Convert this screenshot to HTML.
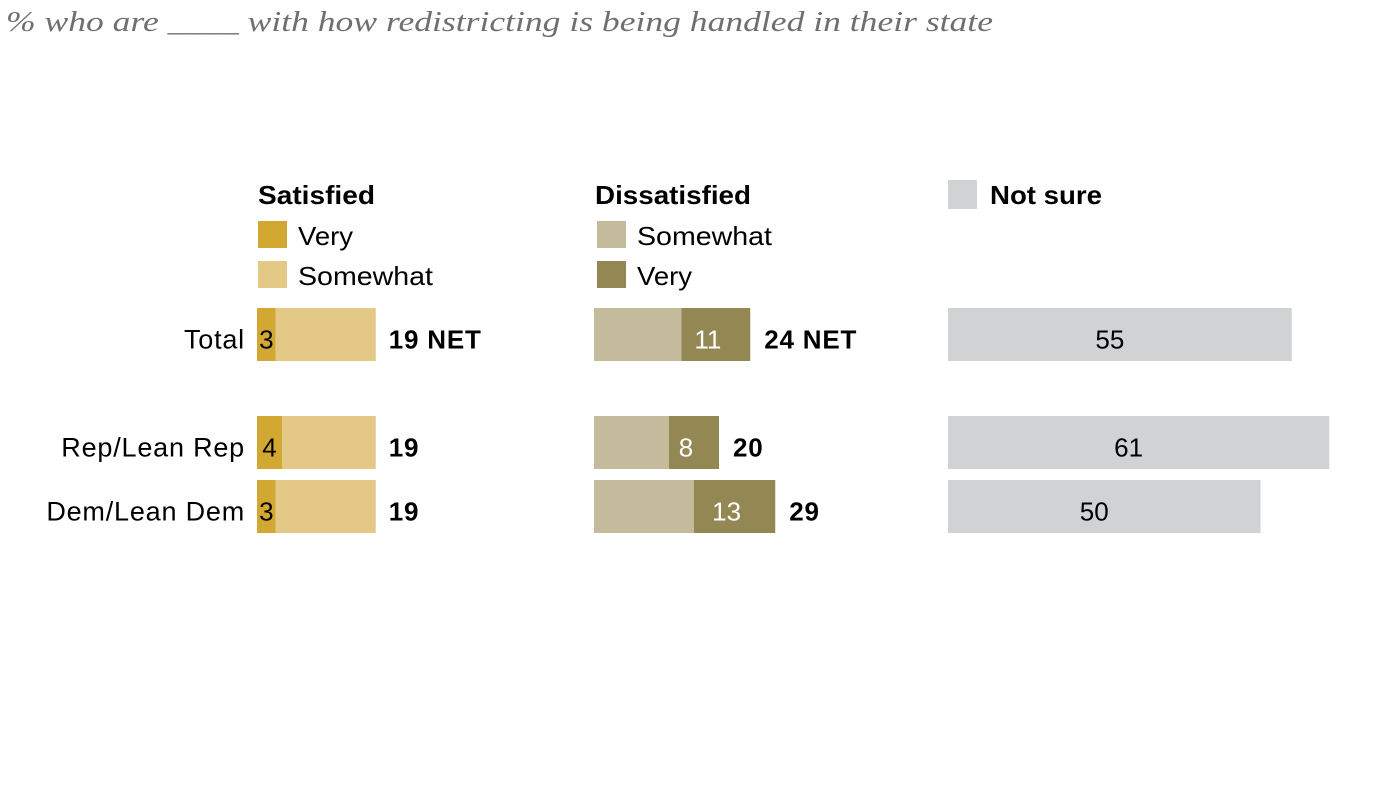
<!DOCTYPE html>
<html><head><meta charset="utf-8">
<style>
body{margin:0;width:1400px;height:789px;background:#fff;overflow:hidden;font-family:"Liberation Sans",sans-serif;}
</style></head>
<body>
<svg id="chart" width="1400" height="789" xmlns="http://www.w3.org/2000/svg">
<text x="6" y="31" font-family="Liberation Serif, serif" font-style="italic" font-size="29" fill="#6f6f6f" textLength="987" lengthAdjust="spacingAndGlyphs">% who are ____ with how redistricting is being handled in their state</text>
<g font-size="26">
<text x="258" y="204" font-weight="bold" textLength="117" lengthAdjust="spacingAndGlyphs">Satisfied</text>
<rect x="258" y="221" width="29" height="27" fill="#d3a832"/>
<text x="298" y="245" textLength="55" lengthAdjust="spacingAndGlyphs">Very</text>
<rect x="258" y="261" width="29" height="27" fill="#e3c985"/>
<text x="298" y="285" textLength="135" lengthAdjust="spacingAndGlyphs">Somewhat</text>
<text x="595" y="204" font-weight="bold" textLength="156" lengthAdjust="spacingAndGlyphs">Dissatisfied</text>
<rect x="597" y="221" width="29" height="27" fill="#c4bb9d"/>
<text x="637" y="245" textLength="135" lengthAdjust="spacingAndGlyphs">Somewhat</text>
<rect x="597" y="261" width="29" height="27" fill="#938754"/>
<text x="637" y="285" textLength="55" lengthAdjust="spacingAndGlyphs">Very</text>
<rect x="948" y="180" width="29" height="29" fill="#d1d2d4"/>
<text x="990" y="204" font-weight="bold" textLength="112" lengthAdjust="spacingAndGlyphs">Not sure</text>
</g>
<g id="bars"></g>
</svg>
<script>
const categories = ["Total", "Rep/Lean Rep", "Dem/Lean Dem"];
const satVery = [3, 4, 3];
const satSomewhat = [16, 15, 16];
const satNet = [19, 19, 19];
const disSomewhat = [14, 12, 16];
const disVery = [11, 8, 13];
const disNet = [24, 20, 29];
const notSure = [55, 61, 50];

const SCALE = 6.25, BAR_H = 53;
const rowY = [308, 416, 480];
const x0Sat = 257, x0Dis = 594, x0NS = 948;
const xs = v => v * SCALE;
const g = document.getElementById('bars');
const NS = 'http://www.w3.org/2000/svg';
function mk(tag, attrs, text){
  const e = document.createElementNS(NS, tag);
  for (const k in attrs) e.setAttribute(k, attrs[k]);
  if (text !== undefined) e.textContent = text;
  g.appendChild(e); return e;
}
categories.forEach((c, i) => {
  const y = rowY[i], ty = y + BAR_H/2 + 14;
  let el = mk('text', {x: 245, y: ty, 'text-anchor': 'end', 'font-size': 27, 'letter-spacing': 0.8, fill: '#000'}, c);
  
  
  el = mk('rect', {x: x0Sat, y: y, width: xs(satVery[i]), height: BAR_H, fill: '#d3a832'});
  
  
  el = mk('rect', {x: x0Sat + xs(satVery[i]), y: y, width: xs(satSomewhat[i]), height: BAR_H, fill: '#e3c985'});
  
  
  el = mk('text', {x: x0Sat + xs(satVery[i]) / 2, y: ty, 'text-anchor': 'middle', 'font-size': 26, fill: '#000'}, satVery[i]);
  
  
  el = mk('text', {x: x0Sat + xs(satVery[i] + satSomewhat[i]) + 13, y: ty, 'font-size': 26, 'font-weight': 'bold', 'letter-spacing': 0.8, fill: '#000'}, satNet[i] + (i === 0 ? ' NET' : ''));
  
  
  el = mk('rect', {x: x0Dis, y: y, width: xs(disSomewhat[i]), height: BAR_H, fill: '#c4bb9d'});
  
  
  el = mk('rect', {x: x0Dis + xs(disSomewhat[i]), y: y, width: xs(disVery[i]), height: BAR_H, fill: '#938754'});
  
  
  el = mk('text', {x: x0Dis + xs(disSomewhat[i]) + xs(disVery[i]) / 2 - 8, y: ty, 'text-anchor': 'middle', 'font-size': 26, fill: '#fff'}, disVery[i]);
  
  
  el = mk('text', {x: x0Dis + xs(disSomewhat[i] + disVery[i]) + 14, y: ty, 'font-size': 26, 'font-weight': 'bold', 'letter-spacing': 0.8, fill: '#000'}, disNet[i] + (i === 0 ? ' NET' : ''));
  
  
  el = mk('rect', {x: x0NS, y: y, width: xs(notSure[i]), height: BAR_H, fill: '#d1d2d4'});
  
  
  el = mk('text', {x: x0NS + xs(notSure[i]) / 2 - 10, y: ty, 'text-anchor': 'middle', 'font-size': 26, fill: '#000'}, notSure[i]);
  
  
});
</script>
</body></html>
